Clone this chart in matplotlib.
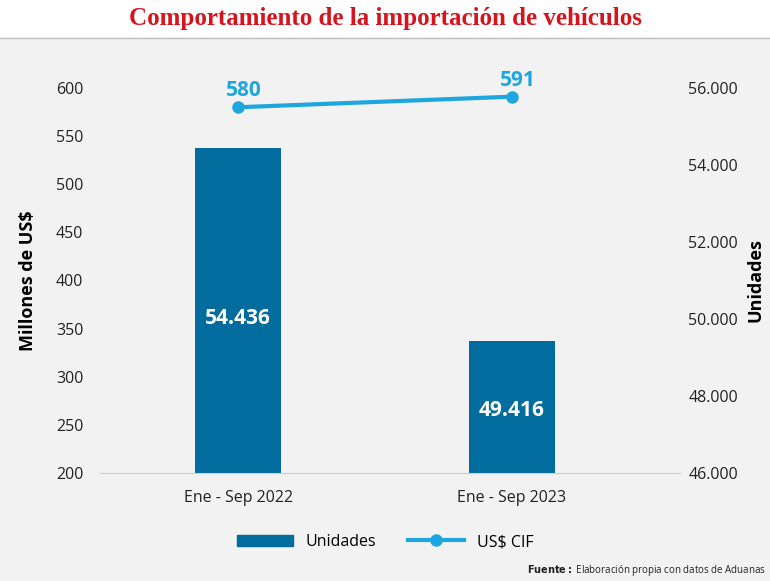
import matplotlib.pyplot as plt
from matplotlib.lines import Line2D
from matplotlib.patches import Patch

plt.rcParams["font.family"] = "Open Sans"

categories = ["Ene - Sep 2022", "Ene - Sep 2023"]
unidades = [54436, 49416]
usd_cif = [580, 591]
unidades_labels = ["54.436", "49.416"]
left_ticks = [200, 250, 300, 350, 400, 450, 500, 550, 600]
right_ticks = [46000, 48000, 50000, 52000, 54000, 56000]
right_labels = ["46.000", "48.000", "50.000", "52.000", "54.000", "56.000"]

bg = "#f2f2f2"
bar_c = "#036c9e"
line_c = "#1ea7df"

fig = plt.figure(figsize=(7.7, 5.81), dpi=100, facecolor=bg)
fig.patches.append(plt.Rectangle((0, 1 - 38/581), 1, 38/581, transform=fig.transFigure,
                                 facecolor="white", edgecolor="none", zorder=0))
fig.lines.append(Line2D([0, 1], [1 - 38/581]*2, transform=fig.transFigure, color="#bbbbbb", lw=1))
fig.text(0.5, 1 - 19/581, "Comportamiento de la importación de vehículos", ha="center", va="center",
         color="#d7141e", fontsize=18, fontweight="bold", family="Liberation Serif")

ax = fig.add_axes([100/770, 1 - 473/581, 580/770, 385/581], facecolor=bg)
ax2 = ax.twinx()
x = list(range(len(categories)))
ax2.bar(x, unidades, width=0.314, color=bar_c, zorder=2)
for xi, v, lab in zip(x, unidades, unidades_labels):
    ax2.text(xi, 46000 + (v - 46000) * 0.475, lab, ha="center", va="center",
             color="white", fontsize=15, fontweight="bold")
ax2.set_ylim(46000, 56000)
ax2.set_yticks(right_ticks)
ax2.set_yticklabels(right_labels)
ax2.set_ylabel("Unidades", fontsize=13, fontweight="bold", labelpad=6)

ax.set_zorder(ax2.get_zorder() + 1)
ax.patch.set_visible(False)
ax.plot(x, usd_cif, color=line_c, lw=3, marker="o", ms=8, zorder=3)
for xi, v in zip(x, usd_cif):
    ax.text(xi + 0.02, v + 6, str(v), ha="center", va="bottom",
            color=line_c, fontsize=15, fontweight="bold")
ax.set_ylim(200, 600)
ax.set_yticks(left_ticks)
ax.set_ylabel("Millones de US$", fontsize=13, fontweight="bold", labelpad=14)
ax.set_xlim(-0.504, 1.613)
ax.set_xticks(x)
ax.set_xticklabels(categories)

for a in (ax, ax2):
    for s in a.spines.values():
        s.set_visible(False)
    a.tick_params(length=0, labelsize=11.5, colors="#222222")
ax.tick_params(axis="y", pad=12)
ax2.tick_params(axis="y", pad=6)
ax.spines["bottom"].set_visible(True)
ax.spines["bottom"].set_color("#cccccc")
ax.tick_params(axis="x", pad=12)

fig.legend(handles=[Patch(color=bar_c, label="Unidades"),
                    Line2D([], [], color=line_c, lw=3, marker="o", ms=8, label="US$ CIF")],
           loc="center", bbox_to_anchor=(0.5, 1 - 542/581), ncol=2, frameon=False,
           fontsize=11.5, handlelength=3.5, columnspacing=2)
fig.text(0.995, 1 - 571/581, r"$\bf{Fuente:}$ Elaboración propia con datos de Aduanas",
         ha="right", va="center", fontsize=7, color="#222222")
fig.savefig("out.png", dpi=100, facecolor=bg)
